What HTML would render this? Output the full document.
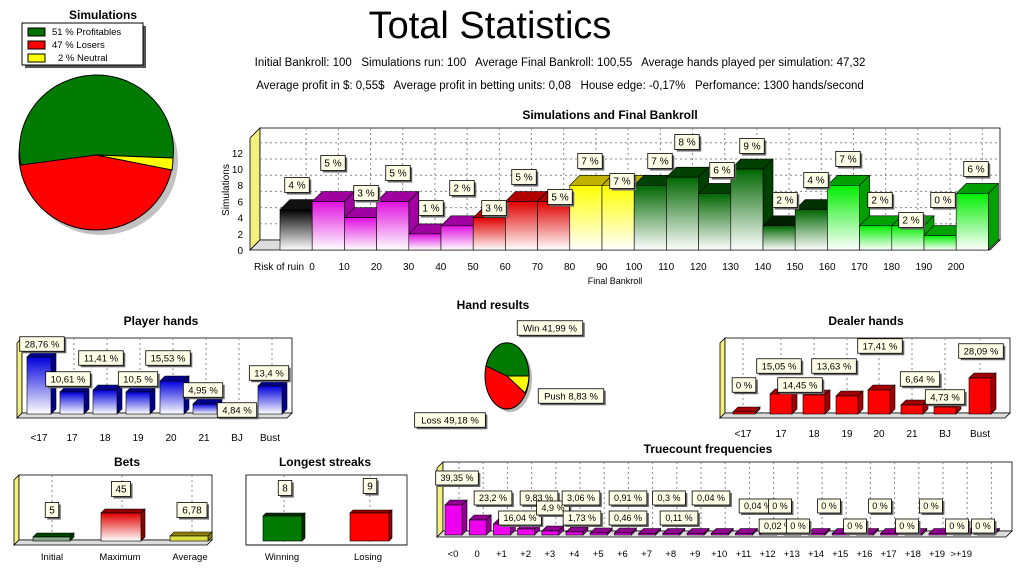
<!DOCTYPE html>
<html><head><meta charset="utf-8"><style>
body{margin:0;background:#fff;width:1020px;height:571px;overflow:hidden}
svg{display:block;font-family:"Liberation Sans",Arial,sans-serif}
</style></head><body>
<svg id="s" width="1020" height="571" viewBox="0 0 1020 571" xmlns="http://www.w3.org/2000/svg">
<defs>
<linearGradient id="gk" x1="0" y1="0" x2="0" y2="1"><stop offset="0" stop-color="#000"/><stop offset="1" stop-color="#fff"/></linearGradient>
<linearGradient id="gm" x1="0" y1="0" x2="0" y2="1"><stop offset="0" stop-color="#e010e0"/><stop offset="1" stop-color="#fff"/></linearGradient>
<linearGradient id="gr" x1="0" y1="0" x2="0" y2="1"><stop offset="0" stop-color="#e00000"/><stop offset="1" stop-color="#fff"/></linearGradient>
<linearGradient id="gy" x1="0" y1="0" x2="0" y2="1"><stop offset="0" stop-color="#ffff00"/><stop offset="1" stop-color="#fff"/></linearGradient>
<linearGradient id="gd" x1="0" y1="0" x2="0" y2="1"><stop offset="0" stop-color="#006600"/><stop offset="1" stop-color="#fff"/></linearGradient>
<linearGradient id="gg" x1="0" y1="0" x2="0" y2="1"><stop offset="0" stop-color="#00ee00"/><stop offset="1" stop-color="#fff"/></linearGradient>
<linearGradient id="gb" x1="0" y1="0" x2="0" y2="1"><stop offset="0" stop-color="#0000dd"/><stop offset="1" stop-color="#fff"/></linearGradient>
<linearGradient id="gR" x1="0" y1="0" x2="0" y2="1"><stop offset="0" stop-color="#ff0000"/><stop offset="1" stop-color="#ff0000"/></linearGradient>
</defs>
<text x="490" y="38" font-size="38" text-anchor="middle">Total Statistics</text>
<text x="560" y="66" font-size="11.5" text-anchor="middle">Initial Bankroll: 100&#160;&#160; Simulations run: 100&#160;&#160; Average Final Bankroll: 100,55&#160;&#160; Average hands played per simulation: 47,32</text>
<text x="560" y="89" font-size="11.5" text-anchor="middle">Average profit in $: 0,55$&#160;&#160; Average profit in betting units: 0,08&#160;&#160; House edge: -0,17%&#160;&#160; Perfomance: 1300 hands/second</text>
<g font-weight="bold" font-size="12" text-anchor="middle">
<text x="103" y="19">Simulations</text>
<text x="610" y="119">Simulations and Final Bankroll</text>
<text x="161" y="325">Player hands</text>
<text x="493" y="309">Hand results</text>
<text x="866" y="325">Dealer hands</text>
<text x="708" y="453">Truecount frequencies</text>
<text x="127" y="466">Bets</text>
<text x="325" y="466">Longest streaks</text>
</g>
<rect x="25" y="26" width="121" height="42" fill="#555"/>
<rect x="22" y="23" width="121" height="42" fill="#fff" stroke="#000"/>
<rect x="28" y="28" width="17" height="8" fill="#007000" stroke="#000"/>
<rect x="28" y="41" width="17" height="8" fill="#f00" stroke="#000"/>
<rect x="28" y="54" width="17" height="8" fill="#ff0" stroke="#000"/>
<g font-size="9.5"><text x="52" y="35">51 % Profitables</text><text x="52" y="48">47 % Losers</text><text x="58" y="61">2 % Neutral</text></g>
<ellipse cx="101" cy="161" rx="77" ry="74" fill="#999" opacity=".6"/>
<ellipse cx="96" cy="155" rx="77" ry="75" fill="#f00" stroke="#000"/>
<path d="M96,155 L21,165 A77,75 0 1 1 173,158 Z" fill="#007a00" stroke="#000"/>
<path d="M96,155 L173,158 A77,75 0 0 1 172,170 Z" fill="#ff0" stroke="#000"/>
<g id="g"></g>
</svg>
<script>
var g=document.getElementById('g'),h='';
function lab(cx,cy,t,fs){fs=fs||10;var w=t.length*fs*0.55+8,hh=fs+5;
h+='<rect x="'+(cx-w/2+2)+'" y="'+(cy-hh/2+2)+'" width="'+w+'" height="'+hh+'" fill="#666"/>'+
'<rect x="'+(cx-w/2)+'" y="'+(cy-hh/2)+'" width="'+w+'" height="'+hh+'" fill="#ffffe8" stroke="#000" stroke-width="0.8"/>'+
'<text x="'+cx+'" y="'+(cy+fs*0.36)+'" font-size="'+fs+'" text-anchor="middle">'+t+'</text>';}
function bar(x,w,top,bot,fill,side,d){
h+='<polygon points="'+(x)+','+top+' '+(x+d)+','+(top-d)+' '+(x+w+d)+','+(top-d)+' '+(x+w)+','+top+'" fill="'+side+'" stroke="#000" stroke-width="0.6"/>';
h+='<polygon points="'+(x+w)+','+top+' '+(x+w+d)+','+(top-d)+' '+(x+w+d)+','+(bot-d)+' '+(x+w)+','+bot+'" fill="'+side+'" stroke="#000" stroke-width="0.6"/>';
h+='<rect x="'+x+'" y="'+top+'" width="'+w+'" height="'+(bot-top)+'" fill="'+fill+'" stroke="#000" stroke-width="0.6"/>';}
function txt(x,y,t,fs,a){h+='<text x="'+x+'" y="'+y+'" font-size="'+(fs||10)+'" text-anchor="'+(a||'middle')+'">'+t+'</text>';}
function frame(x1,y1,x2,y2,d,lines){
h+='<polygon points="'+x1+','+y2+' '+(x1+d)+','+(y2-d)+' '+(x1+d)+','+(y1)+' '+(x1)+','+(y1+d)+'" fill="#f4f080" stroke="#000" stroke-width="0.8"/>';
h+='<rect x="'+(x1+d)+'" y="'+y1+'" width="'+(x2-x1-d)+'" height="'+(y2-d-y1)+'" fill="#fff" stroke="#000" stroke-width="0.8"/>';
(lines||[]).forEach(function(lx){h+='<line x1="'+lx+'" y1="'+y1+'" x2="'+lx+'" y2="'+(y2-d)+'" stroke="#888" stroke-dasharray="2,3"/>';});
h+='<polygon points="'+x1+','+y2+' '+(x1+d)+','+(y2-d)+' '+x2+','+(y2-d)+' '+(x2-d)+','+y2+'" fill="#ddd" stroke="#000" stroke-width="0.8"/>';}
var X0=280,P=32.2,F=250,d=10,U=8.1;
var xl=[];for(var i=0;i<22;i++)xl.push(X0+P*i+P/2+d);
frame(250,128,1000,F,d,xl);
for(var k=1;k<=6;k++){var yy=F-d-k*2*U;h+='<line x1="260" y1="'+yy+'" x2="1000" y2="'+yy+'" stroke="#888" stroke-dasharray="2,3"/>';txt(243,F-k*2*U+4,''+(k*2),10,'end');}
txt(243,F+4,'0',10,'end');
h+='<text transform="translate(229,190) rotate(-90)" font-size="10" text-anchor="middle">Simulations</text>';
var vals=[4,5,3,5,1,2,3,5,5,7,7,7,8,6,9,2,4,7,2,2,0.8,6];
var cols=[['url(#gk)','#111'],['url(#gm)','#a000a0'],['url(#gm)','#a000a0'],['url(#gm)','#a000a0'],['url(#gm)','#a000a0'],['url(#gm)','#a000a0'],['url(#gr)','#b00000'],['url(#gr)','#b00000'],['url(#gr)','#b00000'],['url(#gy)','#c0b000'],['url(#gy)','#c0b000'],['url(#gd)','#004000'],['url(#gd)','#004000'],['url(#gd)','#004000'],['url(#gd)','#004000'],['url(#gd)','#002000'],['url(#gd)','#003000'],['url(#gg)','#00a000'],['url(#gg)','#00a000'],['url(#gg)','#00a000'],['url(#gg)','#00a000'],['url(#gg)','#00a000']];
for(var i=0;i<22;i++){bar(X0+P*i,P,F-vals[i]*U-8,F,cols[i][0],cols[i][1],d);}
var L=[[297,185,'4 %'],[333,163,'5 %'],[366,193,'3 %'],[398,173,'5 %'],[431,208,'1 %'],[462,188,'2 %'],[494,208,'3 %'],[524,177,'5 %'],[560,197,'5 %'],[590,161,'7 %'],[622,181,'7 %'],[660,161,'7 %'],[687,142,'8 %'],[722,170,'6 %'],[752,146,'9 %'],[785,200,'2 %'],[816,180,'4 %'],[848,159,'7 %'],[880,200,'2 %'],[911,220,'2 %'],[943,200,'0 %'],[976,169,'6 %']];
L.forEach(function(l){lab(l[0],l[1],l[2],10);});
txt(279,270,'Risk of ruin',10,'middle');
for(var i=0;i<=20;i++)txt(312+P*i,270,''+i*10,10);
txt(615,284,'Final Bankroll',9);
frame(17,338,292,418,5,[74,107,140,173,206,239,272]);
var ph=[[27,357],[60,392],[93,390],[126,392],[160,381],[193,404],[226,410],[258,386]];
ph.forEach(function(b){bar(b[0],24,b[1],414,'url(#gb)','#00008a',5);});
['&lt;17','17','18','19','20','21','BJ','Bust'].forEach(function(t,i){txt(39+i*33,441,t,10);});
[[42,344,'28,76 %'],[68,379,'10,61 %'],[101,358,'11,41 %'],[138,379,'10,5 %'],[168,358,'15,53 %'],[203,390,'4,95 %'],[237,410,'4,84 %'],[269,373,'13,4 %']].forEach(function(l){lab(l[0],l[1],l[2],9.5);});
frame(720,338,1010,418,5,[743,781,814,847,879,912,945,980]);
var dh=[[733,412],[770,394],[803,395],[836,396],[868,390],[901,405],[934,407],[969,378]];
dh.forEach(function(b){bar(b[0],22,b[1],414,'url(#gR)','#a00000',5);});
['&lt;17','17','18','19','20','21','BJ','Bust'].forEach(function(t,i){txt([743,781,814,847,879,912,945,980][i],437,t,10);});
[[744,385,'0 %'],[779,366,'15,05 %'],[800,385,'14,45 %'],[834,366,'13,63 %'],[880,346,'17,41 %'],[920,379,'6,64 %'],[945,397,'4,73 %'],[981,351,'28,09 %']].forEach(function(l){lab(l[0],l[1],l[2],9.5);});
h+='<ellipse cx="510" cy="379" rx="22" ry="33" fill="#888" opacity=".6"/>';
h+='<ellipse cx="507" cy="376" rx="22" ry="33" fill="#f00" stroke="#000"/>';
h+='<path d="M507,376 L486,366 A22,33 0 0 1 529,376 Z" fill="#007a00" stroke="#000"/>';
h+='<path d="M507,376 L529,376 A22,33 0 0 1 525,393 Z" fill="#ff0" stroke="#000"/>';
lab(550,328,'Win 41,99 %',9.5);lab(571,396,'Push 8,83 %',9.5);lab(450,420,'Loss 49,18 %',9.5);
var tx=[];for(var i=0;i<23;i++)tx.push(453+i*24.2);
frame(437,462,1012,537,6,tx.map(function(v){return v+6;}));
var tv=[505,520,524,529,531,532,533,533];
for(var i=0;i<23;i++){var t=i<tv.length?tv[i]:533.5;bar(tx[i]-8,17,t,535,'#ee00ee','#900090',5);}
['&lt;0','0','+1','+2','+3','+4','+5','+6','+7','+8','+9','+10','+11','+12','+13','+14','+15','+16','+17','+18','+19','&gt;+19'].forEach(function(t,i){txt(453+i*24.2,557,t,9.5);});
[[457,478,'39,35 %'],[493,498,'23,2 %'],[520,518,'16,04 %'],[539,498,'9,83 %'],[553,508,'4,9 %'],[581,498,'3,06 %'],[582,518,'1,73 %'],[628,498,'0,91 %'],[628,518,'0,46 %'],[669,498,'0,3 %'],[679,518,'0,11 %'],[711,498,'0,04 %'],[758,506,'0,04 %'],[778,526,'0,02 %'],[780,506,'0 %'],[798,526,'0 %'],[829,506,'0 %'],[855,526,'0 %'],[880,506,'0 %'],[907,526,'0 %'],[931,506,'0 %'],[957,526,'0 %'],[983,526,'0 %']].forEach(function(l){lab(l[0],l[1],l[2],9);});
frame(14,475,212,545,5,[52,122,192]);
bar(33,37,537,541,'#8a8','#004000',4);bar(101,40,513,541,'url(#gr)','#900000',4);bar(170,38,536,541,'#dd4','#908000',4);
lab(52,510,'5',10);lab(121,489,'45',10);lab(192,510,'6,78',10);
txt(52,560,'Initial',9.5);txt(120,560,'Maximum',9.5);txt(190,560,'Average',9.5);
frame(246,475,407,545,0,[284,370]);
bar(263,39,516,541,'#007a00','#003000',3);bar(350,39,513,541,'#f00','#900000',3);
lab(285,488,'8',10);lab(370,486,'9',10);
txt(282,560,'Winning',9.5);txt(368,560,'Losing',9.5);
g.innerHTML=h;
</script>
</body></html>
